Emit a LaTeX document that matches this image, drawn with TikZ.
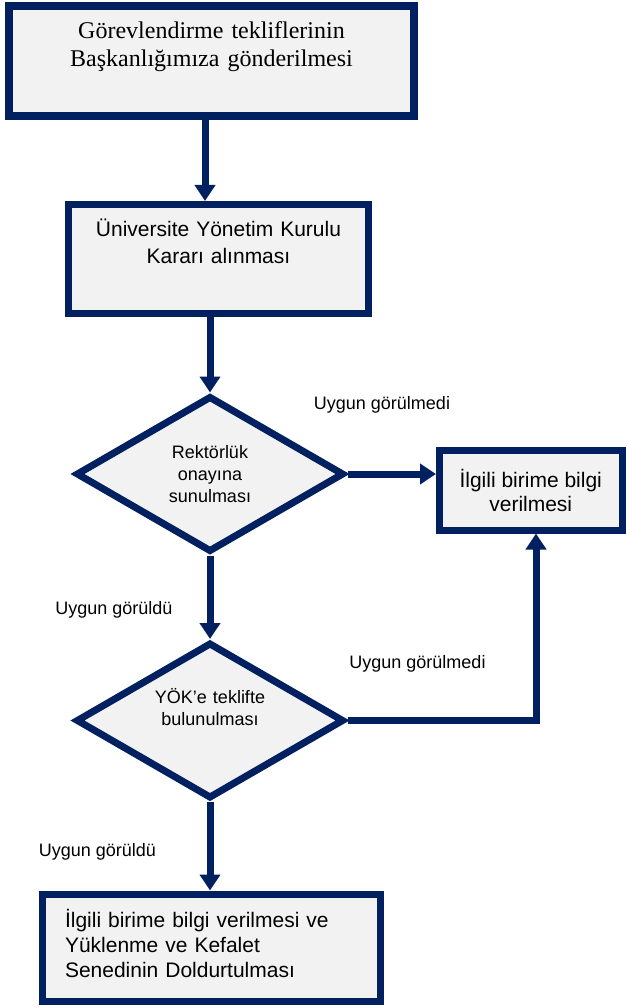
\documentclass[tikz,border=0pt]{standalone}
\usepackage{fontspec}
\setmainfont{Liberation Serif}
\setsansfont{Liberation Sans}
\usetikzlibrary{shapes.geometric,arrows.meta}
\definecolor{koyumavi}{RGB}{0,32,96}
\definecolor{acikgri}{RGB}{242,242,242}

\begin{document}
\begin{tikzpicture}[x=1pt,y=1pt,
kutu/.style = {rectangle, draw=koyumavi, fill=acikgri, line width=7pt, inner xsep=0pt, inner ysep=0pt, font=\sffamily\fontsize{21}{25}\selectfont},
karar/.style = {diamond, aspect=1.72, draw=koyumavi, fill=acikgri, line width=7pt, inner sep=0pt, minimum width=268pt, minimum height=156pt, align=center, font=\sffamily\fontsize{18}{22}\selectfont},
ok/.style = {draw=koyumavi, line width=7pt, -{Triangle[length=16pt,width=20pt]}},
etiket/.style = {font=\sffamily\fontsize{18}{22}\selectfont, anchor=base, inner sep=0pt}]
\useasboundingbox (0,0) rectangle (626,-1008);
    \node[kutu, line width=8pt, font=\rmfamily\fontsize{24}{28}\selectfont, text width=385pt, inner xsep=10pt, align=center, text height=33pt, text depth=77pt] (teklif) at (211.5,-61) {Görevlendirme tekliflerinin\\Başkanlığımıza gönderilmesi};
    \node[kutu, font=\sffamily\fontsize{21}{27}\selectfont, text width=280pt, inner xsep=10pt, align=center, text height=32pt, text depth=77pt] (ykk) at (218.5,-259) {Üniversite Yönetim Kurulu\\Kararı alınması};
    \node[karar, text width=90pt] (rektor) at (210,-474) {Rektörlük\\onayına\\sunulması};
    \node[kutu, font=\sffamily\fontsize{21}{24}\selectfont, minimum width=182.5pt, minimum height=80pt, align=center] (ilgili) at (530.75,-490) {İlgili birime bilgi\\verilmesi};
    \node[karar, text width=112pt, text height=13pt, text depth=48pt] (yok) at (210,-720.5) {YÖK’e teklifte\\bulunulması};
    \node[kutu, text width=293pt, inner xsep=22.5pt, align=left, text height=33pt, text depth=74.5pt] (kefalet) at (211.5,-947.75) {İlgili birime bilgi verilmesi ve\\Yüklenme ve Kefalet\\Senedinin Doldurtulması};

    \node[etiket] (red1) at (382,-409) {Uygun görülmedi};
    \node[etiket] (onay1) at (114,-614) {Uygun görüldü};
    \node[etiket] (red2) at (417.5,-668) {Uygun görülmedi};
    \node[etiket] (onay2) at (97.5,-856) {Uygun görüldü};

    \draw[ok] ([xshift=-6.5pt]teklif.south) -- ([xshift=-6.5pt]teklif.south |- ykk.north);
    \draw[ok] (ykk.south -| rektor.north) -- (rektor.north);
    \draw[ok] (rektor.east) -- (rektor.east -| ilgili.west);
    \draw[ok] (rektor.south) -- (yok.north);
    \draw[ok] (yok.east) -| ([xshift=5.25pt]ilgili.south);
    \draw[ok] (yok.south) -- (yok.south |- kefalet.north);
\end{tikzpicture}
\end{document}
